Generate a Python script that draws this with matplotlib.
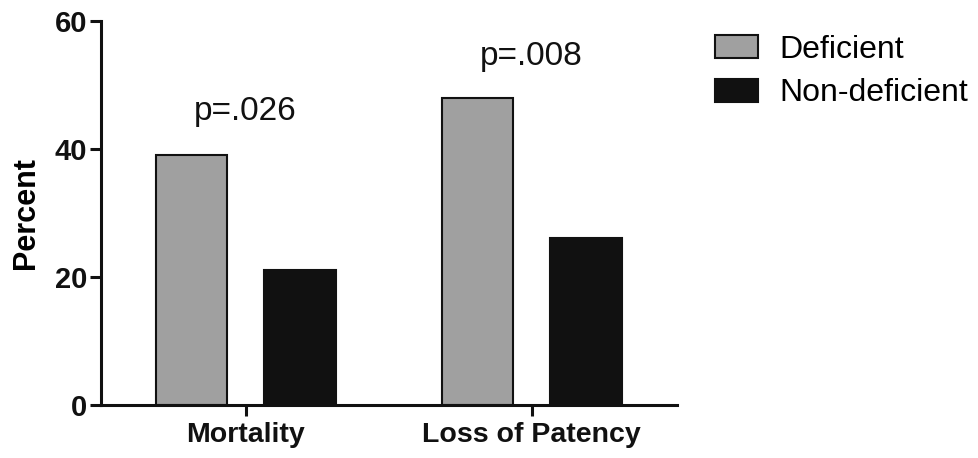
import matplotlib
matplotlib.use("Agg")
import matplotlib.pyplot as plt
import numpy as np

categories = ["Mortality", "Loss of Patency"]
deficient = [39, 48]
non_deficient = [21, 26]
p_values = ["p=.026", "p=.008"]
p_heights = [44.5, 53.1]
series_labels = ["Deficient", "Non-deficient"]
yticks = [0, 20, 40, 60]

plt.rcParams['font.family'] = ['Liberation Sans', 'DejaVu Sans']

fig = plt.figure(figsize=(9.79, 4.58), dpi=100)
ax = fig.add_axes([101/979, 1-405/458, (677-101)/979, (405-20.7)/458])

x = np.arange(len(categories))
w = 0.25
off = 0.19
b1 = ax.bar(x - off, deficient, w, color='#a0a0a0', edgecolor='#111111', linewidth=1.5, label=series_labels[0])
b2 = ax.bar(x + off, non_deficient, w, color='#111111', edgecolor='#111111', linewidth=1.5, label=series_labels[1])

for xi, txt, h in zip(x, p_values, p_heights):
    ax.text(xi, h, txt, ha='center', va='baseline', fontsize=24, color='#111111')

ax.set_xlim(-0.506, 1.508)
ax.set_ylim(0, 60)
ax.set_yticks(yticks)
ax.set_yticklabels([str(t) for t in yticks], fontsize=21, fontweight='bold')
ax.set_xticks(x)
ax.set_xticklabels(categories, fontsize=20.5, fontweight='bold')
ax.set_ylabel("Percent", fontsize=22, fontweight='bold', labelpad=10)

for s in ['top', 'right']:
    ax.spines[s].set_visible(False)
for s in ['left', 'bottom']:
    ax.spines[s].set_linewidth(2.2)
    ax.spines[s].set_color('#111111')
ax.tick_params(axis='both', direction='out', length=8, width=2.2, color='#111111', labelcolor='#111111')
ax.tick_params(axis='y', pad=2)
ax.tick_params(axis='x', pad=4)

fig.legend(handles=[b1, b2], labels=series_labels, loc='upper left',
           bbox_to_anchor=(715/979, 1-35/458), frameon=False, fontsize=23,
           handlelength=1.35, handleheight=0.72, handletextpad=0.66,
           labelspacing=0.42, borderpad=0, borderaxespad=0)

fig.savefig("out.png", dpi=100)
